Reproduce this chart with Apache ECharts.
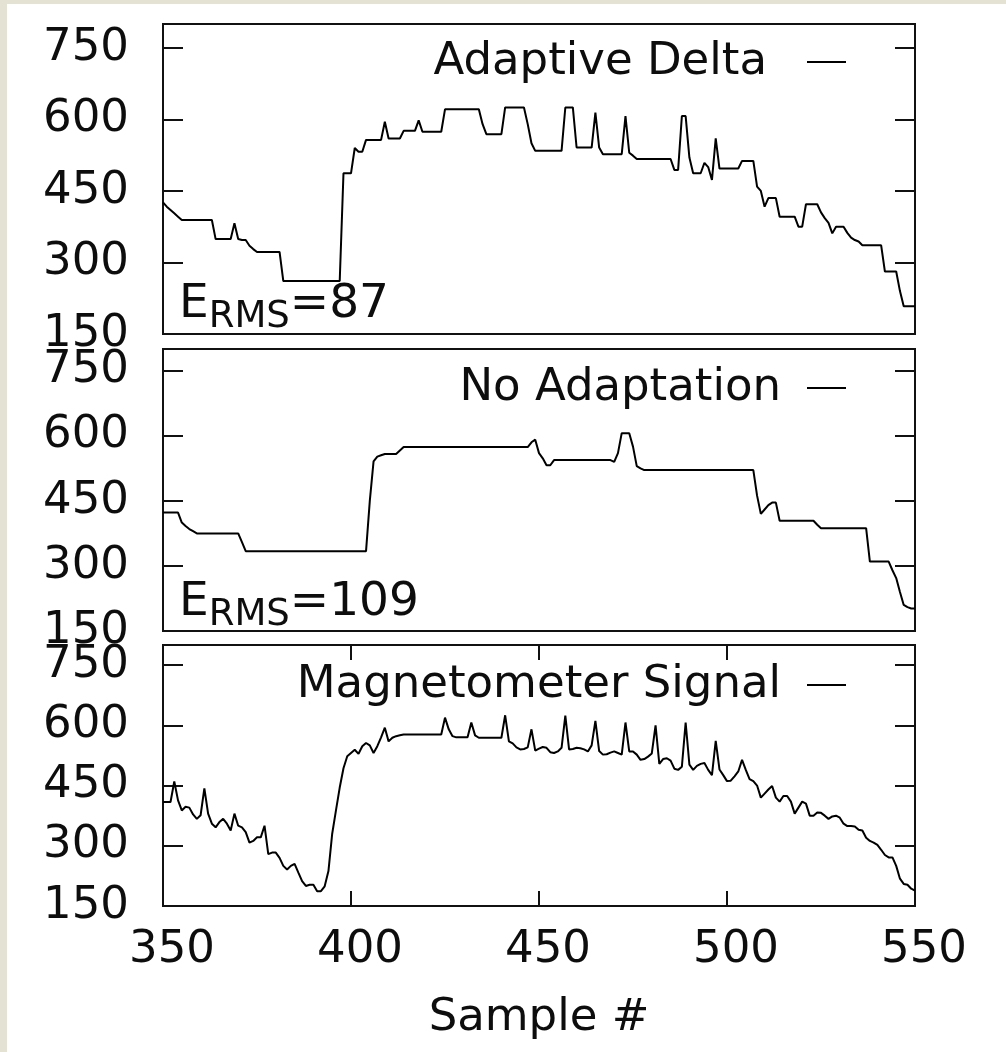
<!DOCTYPE html>
<html>
<head>
<meta charset="utf-8">
<script src="https://cdn.jsdelivr.net/npm/echarts@6/dist/echarts.min.js"></script>
<style>
  html, body { margin: 0; padding: 0; }
  body { width: 1006px; height: 1052px; background: #e4e2d2; position: relative; overflow: hidden; }
  #main { position: absolute; left: 7px; top: 4px; width: 999px; height: 1048px; background: #fff; }
</style>
</head>
<body>
<div id="main"></div>
<script>
// sample numbers run 350..550, one value per sample
const firstSample = 350;

const adaptiveDelta = [
  426, 417, 410, 403, 396, 389, 389, 389, 389, 389,
  389, 389, 389, 389, 349, 349, 349, 349, 349, 382,
  349, 347, 347, 335, 328, 322, 322, 322, 322, 322,
  322, 322, 261, 261, 261, 261, 261, 261, 261, 261,
  261, 261, 261, 261, 261, 261, 261, 261, 487, 487,
  487, 540, 532, 532, 557, 557, 557, 557, 557, 595,
  560, 560, 560, 560, 576, 576, 576, 576, 598, 574,
  574, 574, 574, 574, 574, 621, 621, 621, 621, 621,
  621, 621, 621, 621, 621, 590, 569, 569, 569, 569,
  569, 625, 625, 625, 625, 625, 625, 590, 550, 534,
  534, 534, 534, 534, 534, 534, 534, 625, 625, 625,
  541, 541, 541, 541, 541, 614, 541, 527, 527, 527,
  527, 527, 527, 607, 530, 524, 517, 517, 517, 517,
  517, 517, 517, 517, 517, 517, 494, 494, 607, 607,
  520, 487, 487, 487, 509, 500, 473, 560, 497, 497,
  497, 497, 497, 497, 513, 513, 513, 513, 459, 450,
  417, 435, 435, 435, 396, 396, 396, 396, 396, 375,
  375, 422, 422, 422, 422, 405, 393, 383, 361, 375,
  375, 375, 362, 352, 347, 344, 336, 336, 336, 336,
  336, 336, 281, 281, 281, 281, 240, 208, 208, 208,
  208
];

const noAdaptation = [
  423, 423, 423, 423, 423, 400, 392, 385, 380, 375,
  375, 375, 375, 375, 375, 375, 375, 375, 375, 375,
  375, 355, 334, 334, 334, 334, 334, 334, 334, 334,
  334, 334, 334, 334, 334, 334, 334, 334, 334, 334,
  334, 334, 334, 334, 334, 334, 334, 334, 334, 334,
  334, 334, 334, 334, 334, 450, 541, 552, 555, 558,
  558, 558, 558, 566, 574, 574, 574, 574, 574, 574,
  574, 574, 574, 574, 574, 574, 574, 574, 574, 574,
  574, 574, 574, 574, 574, 574, 574, 574, 574, 574,
  574, 574, 574, 574, 574, 574, 574, 574, 585, 591,
  560, 548, 532, 532, 544, 544, 544, 544, 544, 544,
  544, 544, 544, 544, 544, 544, 544, 544, 544, 544,
  540, 560, 606, 606, 606, 575, 530, 525, 521, 521,
  521, 521, 521, 521, 521, 521, 521, 521, 521, 521,
  521, 521, 521, 521, 521, 521, 521, 521, 521, 521,
  521, 521, 521, 521, 521, 521, 521, 521, 462, 420,
  430, 440, 446, 446, 404, 404, 404, 404, 404, 404,
  404, 404, 404, 404, 395, 387, 387, 387, 387, 387,
  387, 387, 387, 387, 387, 387, 387, 387, 310, 310,
  310, 310, 310, 310, 290, 272, 240, 210, 205, 202,
  202
];

const magnetometer = [
  409, 409, 409, 460, 413, 388, 397, 395, 378, 367,
  376, 443, 380, 355, 346, 359, 367, 355, 338, 380,
  350, 346, 334, 308, 312, 321, 321, 350, 279, 283,
  283, 270, 250, 241, 250, 255, 233, 212, 200, 203,
  203, 187, 187, 199, 237, 330, 388, 445, 493, 523,
  531, 539, 529, 548, 556, 550, 531, 548, 570, 594,
  560, 569, 573, 575, 577, 577, 577, 577, 577, 577,
  577, 577, 577, 577, 577, 619, 590, 573, 570, 570,
  570, 570, 607, 575, 569, 569, 569, 569, 569, 569,
  569, 625, 560, 555, 545, 540, 541, 545, 590, 537,
  542, 546, 544, 533, 531, 535, 544, 624, 540, 541,
  544, 543, 540, 535, 550, 611, 536, 527, 528, 532,
  535, 531, 527, 607, 535, 535, 527, 514, 516, 522,
  530, 600, 504, 516, 518, 512, 492, 489, 497, 607,
  502, 489, 499, 504, 506, 489, 476, 561, 490, 476,
  461, 462, 473, 485, 514, 489, 466, 461, 450, 420,
  430, 440, 449, 420, 410, 424, 424, 410, 380, 395,
  410, 405, 375, 375, 383, 382, 375, 367, 373, 375,
  370, 355, 349, 349, 348, 340, 338, 320, 312, 308,
  302, 290, 277, 271, 271, 250, 218, 205, 203, 193,
  188
];

const seriesNames = ['Adaptive Delta', 'No Adaptation', 'Magnetometer Signal'];
const errorValues = ['87', '109'];

const FONT = 'DejaVu Sans';
const INK = '#0d0d0d';
const FRAME = '#111';

function toPoints(values) {
  return values.map(function (v, i) { return [firstSample + i, v]; });
}

let myChart = echarts.init(document.getElementById('main'), null, { renderer: 'canvas' });

// panel boxes in chart coords
const panels = [
  { top: 20, height: 310, legendTop: 28, gap: 35 },
  { top: 345, height: 282, legendTop: 354, gap: 21 },
  { top: 641, height: 261, legendTop: 651, gap: 21 }
];

let grids = [], xAxes = [], yAxes = [], series = [], legends = [];
const allData = [adaptiveDelta, noAdaptation, magnetometer];

panels.forEach(function (p, i) {
  grids.push({
    left: 156, right: 91, top: p.top, height: p.height,
    show: true, borderColor: FRAME, borderWidth: 2, backgroundColor: '#fff',
    outerBoundsMode: 'none'
  });

  yAxes.push({
    gridIndex: i, type: 'value', min: 150, max: 800, interval: 150, position: 'left',
    axisLine: { show: false }, splitLine: { show: false },
    axisTick: { inside: true, length: 20, lineStyle: { color: FRAME, width: 2 } },
    axisLabel: { margin: 34, fontSize: 45, fontFamily: FONT, color: INK, showMaxLabel: false }
  });
  yAxes.push({
    gridIndex: i, type: 'value', min: 150, max: 800, interval: 150, position: 'right',
    axisLine: { show: false }, splitLine: { show: false },
    axisTick: { inside: true, length: 20, lineStyle: { color: FRAME, width: 2 } },
    axisLabel: { show: false }
  });

  if (i < 2) {
    xAxes.push({ gridIndex: i, type: 'value', min: 350, max: 550, show: false });
  } else {
    xAxes.push({
      gridIndex: i, type: 'value', min: 350, max: 550, interval: 50, position: 'bottom',
      axisLine: { show: false }, splitLine: { show: false },
      axisTick: { inside: true, length: 15, lineStyle: { color: FRAME, width: 2 } },
      axisLabel: { margin: 22, fontSize: 45, fontFamily: FONT, color: INK, padding: [0, 0, 0, 18] },
      name: 'Sample #', nameLocation: 'middle', nameGap: 90,
      nameTextStyle: { fontSize: 45, fontFamily: FONT, color: INK }
    });
    xAxes.push({
      gridIndex: i, type: 'value', min: 350, max: 550, interval: 50, position: 'top',
      axisLine: { show: false }, splitLine: { show: false },
      axisTick: { inside: true, length: 15, lineStyle: { color: FRAME, width: 2 } },
      axisLabel: { show: false }
    });
  }

  series.push({
    name: seriesNames[i],
    type: 'line',
    xAxisIndex: i,
    yAxisIndex: i * 2,
    data: toPoints(allData[i]),
    showSymbol: false,
    color: '#000',
    lineStyle: { color: '#000', width: 2 }
  });

  legends.push({
    data: [seriesNames[i]],
    right: 155, top: p.legendTop, align: 'right',
    icon: 'rect', itemWidth: 39, itemHeight: 2,
    itemStyle: { color: '#000' },
    selectedMode: false,
    textStyle: { fontSize: 45, fontFamily: FONT, color: INK, lineHeight: 50, padding: [0, p.gap, 0, 0] }
  });
});

function errorText(value, y) {
  return {
    type: 'text', left: 172, top: y,
    style: {
      text: '{e|E}{s|RMS}{e|=' + value + '}',
      rich: {
        e: { fontSize: 47, lineHeight: 47, fontFamily: FONT, fill: INK },
        s: { fontSize: 37, lineHeight: 37, fontFamily: FONT, fill: INK, padding: [25, 0, 0, 0] }
      }
    }
  };
}

let option = {
  animation: false,
  backgroundColor: '#fff',
  grid: grids,
  xAxis: xAxes,
  yAxis: yAxes,
  legend: legends,
  series: series,
  graphic: [errorText(errorValues[0], 270), errorText(errorValues[1], 568)]
};

myChart.setOption(option);
window.addEventListener('resize', function () {
  myChart.resize();
});
</script>
</body>
</html>
